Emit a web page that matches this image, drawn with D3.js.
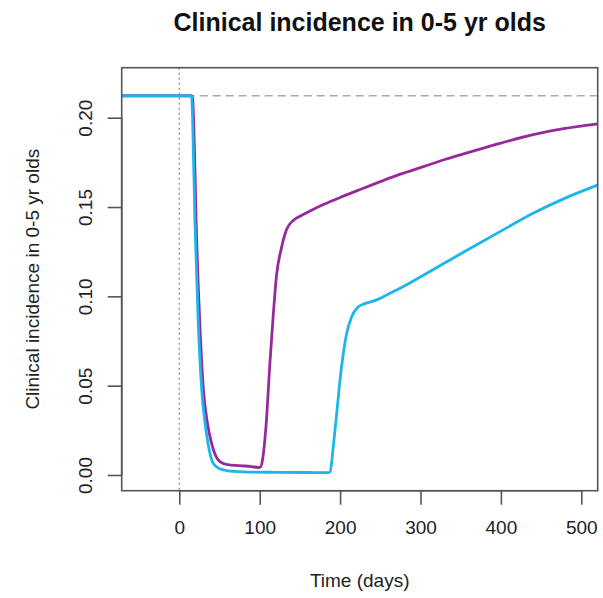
<!DOCTYPE html>
<html><head><meta charset="utf-8">
<script src="https://cdn.jsdelivr.net/npm/d3@7"></script>
<style>
html,body{margin:0;padding:0;background:#fff;}
svg{display:block;font-family:"Liberation Sans",Arial,sans-serif;}
</style></head>
<body><svg id="c" width="603" height="598"></svg>
<script>
const title = "Clinical incidence in 0-5 yr olds";
const xLabel = "Time (days)";
const yLabel = "Clinical incidence in 0-5 yr olds";
const xTicks = [0, 100, 200, 300, 400, 500];
const yTicks = [0.00, 0.05, 0.10, 0.15, 0.20];
const yTickLabels = ["0.00", "0.05", "0.10", "0.15", "0.20"];
const baseline = 0.2123;
const interventionDay = 0;

const cyanDays = [-72, 0, 14, 15.4, 16.7, 19.5, 23.6, 27.9, 32, 36, 41.9, 50, 59, 80, 120, 160, 185, 187.6, 191.5, 195.8, 199.9, 204, 208.2, 214.4, 222.6, 230, 245.5, 262, 280, 303.5, 330, 361.6, 400, 440, 480, 521];
const cyanValues = [0.2123, 0.2123, 0.2123, 0.2115, 0.197, 0.141, 0.085, 0.0476, 0.029, 0.017, 0.0067, 0.0035, 0.0025, 0.0018, 0.0015, 0.0014, 0.0013, 0.0018, 0.0159, 0.0345, 0.0532, 0.068, 0.0793, 0.0886, 0.0942, 0.0958, 0.098, 0.1017, 0.1058, 0.1118, 0.1187, 0.1268, 0.1365, 0.1465, 0.155, 0.1624];

const purpleDays = [-72, 0, 15, 16.5, 18, 21, 25.5, 30, 35, 40, 45, 50.6, 60, 75, 90, 98, 101, 103.7, 107.8, 112.8, 117, 121, 127, 133.6, 141.8, 150, 162.6, 180, 200, 225, 250, 275, 303.6, 330, 360, 400, 440, 480, 521];
const purpleValues = [0.2123, 0.2123, 0.2123, 0.211, 0.197, 0.141, 0.085, 0.0476, 0.029, 0.018, 0.011, 0.0075, 0.0058, 0.0052, 0.0047, 0.0042, 0.0045, 0.009, 0.027, 0.0634, 0.0905, 0.112, 0.127, 0.1375, 0.1425, 0.1448, 0.1478, 0.1515, 0.1553, 0.1598, 0.1642, 0.1684, 0.1726, 0.1766, 0.1806, 0.1858, 0.1905, 0.1940, 0.1966];

const seriesColors = {purple: "#972a9b", cyan: "#1db5ea"};

const L = 121.7, R = 597.7, T = 67.7, B = 490.7;
const x = d3.scaleLinear().domain([-71.64, 520.4]).range([L, R]);
const y = d3.scaleLinear().domain([-0.00879, 0.22799]).range([B, T]);

const svg = d3.select("#c");

svg.append("defs").append("clipPath").attr("id", "clip")
  .append("rect").attr("x", L).attr("y", T).attr("width", R - L).attr("height", B - T);

const plot = svg.append("g").attr("clip-path", "url(#clip)");

// reference lines
plot.append("line")
  .attr("x1", L).attr("x2", R).attr("y1", y(baseline)).attr("y2", y(baseline))
  .attr("stroke", "#aaaaaa").attr("stroke-width", 1.3).attr("stroke-dasharray", "8,5");
plot.append("line")
  .attr("x1", x(interventionDay)).attr("x2", x(interventionDay)).attr("y1", T).attr("y2", B)
  .attr("stroke", "#999999").attr("stroke-width", 1.5).attr("stroke-dasharray", "2,3");

const line = d3.line().x(d => x(d[0])).y(d => y(d[1])).curve(d3.curveMonotoneX);

plot.append("path").datum(purpleDays.map((d, i) => [d, purpleValues[i]]))
  .attr("d", line).attr("fill", "none").attr("stroke", seriesColors.purple)
  .attr("stroke-width", 2.8).attr("stroke-linejoin", "round");
plot.append("path").datum(cyanDays.map((d, i) => [d, cyanValues[i]]))
  .attr("d", line).attr("fill", "none").attr("stroke", seriesColors.cyan)
  .attr("stroke-width", 2.8).attr("stroke-linejoin", "round");

// box
svg.append("rect").attr("x", L).attr("y", T).attr("width", R - L).attr("height", B - T)
  .attr("fill", "none").attr("stroke", "#555").attr("stroke-width", 1.6);

// x axis
const xAxis = d3.axisBottom(x).tickValues(xTicks).tickSize(14).tickPadding(16).tickFormat(d3.format("d"));
const gx = svg.append("g").attr("transform", `translate(0,${B})`).call(xAxis);
gx.select(".domain").attr("stroke", "#555").attr("stroke-width", 1.6)
  .attr("d", `M${x(xTicks[0])},0H${x(xTicks[xTicks.length-1])}`);
gx.selectAll(".tick line").attr("stroke", "#555").attr("stroke-width", 1.6);
gx.selectAll(".tick text").attr("font-size", 19).attr("fill", "#222")
  .attr("font-family", "Liberation Sans, Arial, sans-serif");

// y axis
const yAxis = d3.axisLeft(y).tickValues(yTicks).tickSize(14).tickFormat((d, i) => yTickLabels[i]);
const gy = svg.append("g").attr("transform", `translate(${L},0)`).call(yAxis);
gy.select(".domain").attr("stroke", "#555").attr("stroke-width", 1.6)
  .attr("d", `M0,${y(yTicks[0])}V${y(yTicks[yTicks.length-1])}`);
gy.selectAll(".tick line").attr("stroke", "#555").attr("stroke-width", 1.6);
gy.selectAll(".tick text")
  .attr("font-size", 19).attr("fill", "#222").attr("font-family", "Liberation Sans, Arial, sans-serif")
  .attr("text-anchor", "middle").attr("x", null).attr("dy", null)
  .attr("transform", "translate(-35,0) rotate(-90)").attr("dominant-baseline", "middle");

// titles
svg.append("text").attr("x", (L + R) / 2).attr("y", 31).attr("text-anchor", "middle")
  .attr("font-size", 25).attr("font-weight", "bold").attr("fill", "#111").text(title);
svg.append("text").attr("x", (L + R) / 2).attr("y", 587).attr("text-anchor", "middle")
  .attr("font-size", 19).attr("fill", "#222").text(xLabel);
svg.append("text").attr("transform", `translate(39,${(T + B) / 2}) rotate(-90)`).attr("text-anchor", "middle")
  .attr("font-size", 19).attr("fill", "#222").text(yLabel);
</script></body></html>
